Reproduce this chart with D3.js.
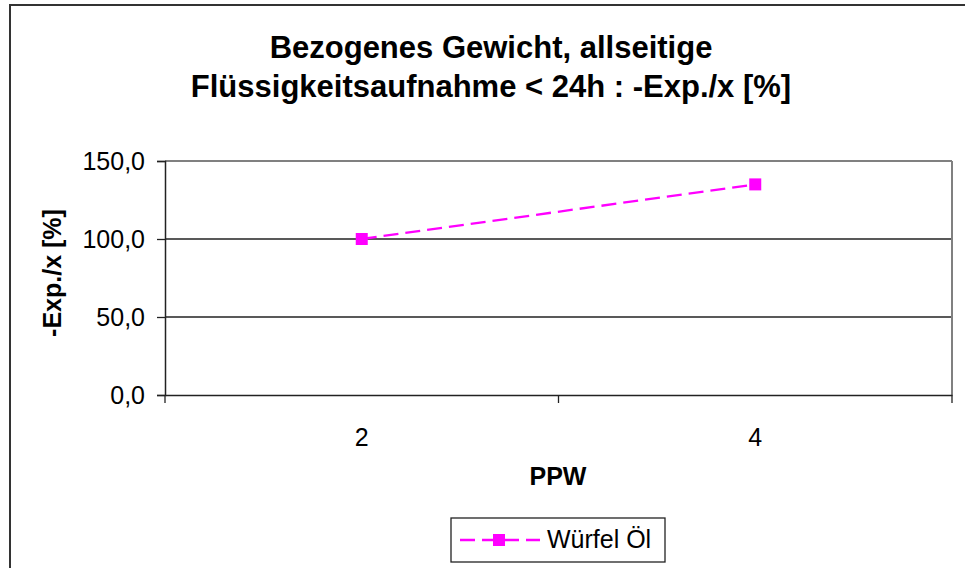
<!DOCTYPE html>
<html>
<head>
<meta charset="utf-8">
<script src="https://cdn.jsdelivr.net/npm/d3@7"></script>
<style>
  body { margin: 0; background: #fff; }
  text { font-family: "Liberation Sans", Arial, sans-serif; }
</style>
</head>
<body>
<div id="chart"></div>
<script>
const categories = ["2", "4"];
const seriesName = "Würfel Öl";
const values = [100.0, 135.0];
const yTicks = [0, 50, 100, 150];

const width = 965, height = 568;
const margin = {left: 165, right: 13, top: 161, bottom: 173};

const svg = d3.select("#chart").append("svg")
  .attr("width", width)
  .attr("height", height);

// outer chart frame (runs off the right and bottom edge)
svg.append("rect")
  .attr("x", 10).attr("y", 5)
  .attr("width", 970).attr("height", 580)
  .attr("fill", "#fff")
  .attr("stroke", "#333").attr("stroke-width", 2);

const x = d3.scaleBand()
  .domain(categories)
  .range([margin.left, width - margin.right]);

const y = d3.scaleLinear()
  .domain([0, 150])
  .range([height - margin.bottom, margin.top]);

// gridlines
svg.append("g")
  .selectAll("line")
  .data(yTicks.slice(1))
  .join("line")
    .attr("x1", margin.left).attr("x2", width - margin.right)
    .attr("y1", d => y(d)).attr("y2", d => y(d))
    .attr("stroke", d => d === 150 ? "#808080" : "#222")
    .attr("stroke-width", d => d === 150 ? 2 : 1.3);

// right border of plot area
svg.append("line")
  .attr("x1", width - margin.right).attr("x2", width - margin.right)
  .attr("y1", margin.top).attr("y2", y(0))
  .attr("stroke", "#808080").attr("stroke-width", 2);

// y axis
const yAxis = svg.append("g")
  .attr("transform", `translate(${margin.left},0)`)
  .call(d3.axisLeft(y).tickValues(yTicks).tickSize(8).tickPadding(12)
    .tickFormat(d => d3.format(".1f")(d).replace(".", ",")));
yAxis.select(".domain").attr("stroke", "#222").attr("stroke-width", 1.5);
yAxis.selectAll(".tick line").attr("stroke", "#222").attr("stroke-width", 1.3);
yAxis.selectAll("text").attr("font-size", 25).attr("fill", "#000")
  .attr("font-family", "Liberation Sans, Arial, sans-serif");

// x axis: category boundaries as ticks
const xAxis = svg.append("g")
  .attr("transform", `translate(0,${y(0)})`)
  .call(d3.axisBottom(x).tickSize(0).tickPadding(33));
xAxis.select(".domain").attr("stroke", "#222").attr("stroke-width", 1.5);
xAxis.selectAll("text").attr("font-size", 25).attr("fill", "#000")
  .attr("font-family", "Liberation Sans, Arial, sans-serif");
xAxis.selectAll(".bound")
  .data(categories.map(c => x(c)).concat([x(categories[categories.length - 1]) + x.bandwidth()]))
  .join("line")
    .attr("class", "bound")
    .attr("x1", d => d).attr("x2", d => d)
    .attr("y1", 0).attr("y2", 8)
    .attr("stroke", "#222").attr("stroke-width", 1.3);

// series line
const cx = c => x(c) + x.bandwidth() / 2;
const pts = categories.map((c, i) => [cx(c), y(values[i])]);

svg.append("path")
  .attr("d", d3.line()(pts))
  .attr("fill", "none")
  .attr("stroke", "#ff00ff")
  .attr("stroke-width", 2.3)
  .attr("stroke-dasharray", "15,7");

svg.selectAll(".marker")
  .data(pts)
  .join("rect")
    .attr("class", "marker")
    .attr("x", d => d[0] - 6).attr("y", d => d[1] - 6)
    .attr("width", 12).attr("height", 12)
    .attr("fill", "#ff00ff");

// title
svg.append("text")
  .attr("x", 491).attr("y", 58)
  .attr("text-anchor", "middle")
  .attr("font-size", 31).attr("font-weight", "bold")
  .text("Bezogenes Gewicht, allseitige");
svg.append("text")
  .attr("x", 491).attr("y", 97)
  .attr("text-anchor", "middle")
  .attr("font-size", 31).attr("font-weight", "bold")
  .text("Flüssigkeitsaufnahme < 24h : -Exp./x [%]");

// axis titles
svg.append("text")
  .attr("x", 558).attr("y", 485)
  .attr("text-anchor", "middle")
  .attr("font-size", 25).attr("font-weight", "bold")
  .text("PPW");

svg.append("text")
  .attr("transform", "translate(61,273) rotate(-90)")
  .attr("text-anchor", "middle")
  .attr("font-size", 25).attr("font-weight", "bold")
  .text("-Exp./x [%]");

// legend
const lg = svg.append("g");
lg.append("rect")
  .attr("x", 451).attr("y", 518)
  .attr("width", 214).attr("height", 44)
  .attr("fill", "#fff").attr("stroke", "#222").attr("stroke-width", 1.3);
lg.append("line")
  .attr("x1", 460).attr("x2", 540)
  .attr("y1", 540).attr("y2", 540)
  .attr("stroke", "#ff00ff").attr("stroke-width", 2.3)
  .attr("stroke-dasharray", "15,7");
lg.append("rect")
  .attr("x", 493).attr("y", 534)
  .attr("width", 12).attr("height", 12)
  .attr("fill", "#ff00ff");
lg.append("text")
  .attr("x", 547).attr("y", 548)
  .attr("font-size", 25)
  .text(seriesName);
</script>
</body>
</html>
